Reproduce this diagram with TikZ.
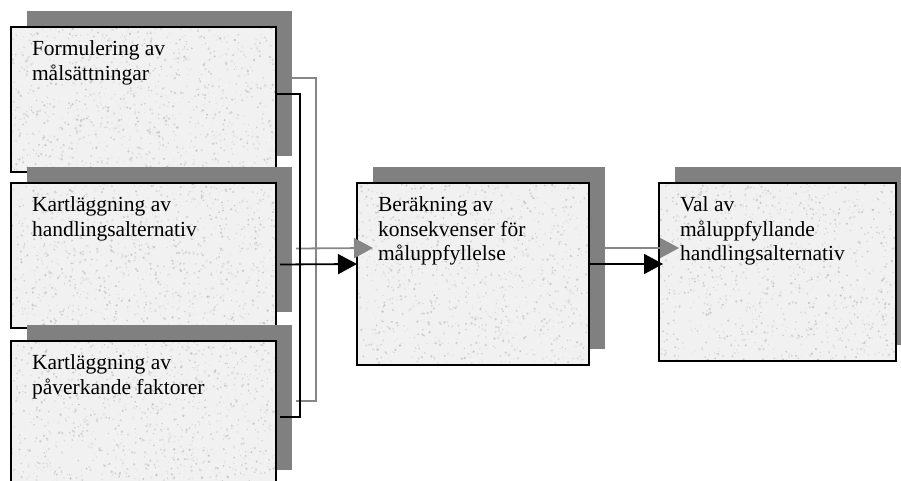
\documentclass[tikz,border=0pt]{standalone}
\usepackage{fontspec}
\setmainfont{Liberation Serif}
\usetikzlibrary{arrows.meta}
\definecolor{shade}{HTML}{808080}
\definecolor{glinecol}{HTML}{868686}
\definecolor{boxfill}{HTML}{F1F1F1}
\tikzset{
  shadowbox/.style={rectangle, fill=shade, draw=none, inner sep=0pt, outer sep=0pt, anchor=north west},
  frontbox/.style={rectangle, fill=boxfill, draw=none, inner sep=0pt, outer sep=0pt, anchor=north west},
  boxborder/.style={rectangle, draw=black, line width=1.8pt, inner sep=0pt, outer sep=0pt},
  smallbox/.style={minimum width=265pt, minimum height=145pt},
  boxtext/.style={anchor=north west, inner sep=0pt, outer sep=0pt, align=left, font=\fontsize{21.5}{24.5}\selectfont},
  blkline/.style={draw=black, line width=1.8pt},
  grayline/.style={draw=glinecol, line width=1.8pt},
  blkarrow/.style={blkline, -{Triangle[length=19pt,width=20pt]}},
  grayarrow/.style={grayline, -{Triangle[length=19pt,width=20pt]}}
}
% speckled texture inside a box given by x0,y0,w,h (picture units)
\newcommand\boxspeckle[4]{%
  \begin{scope}
    \clip (#1,#2) rectangle ({#1+#3},{#2+#4});
    \foreach \k in {1,...,1100}{%
      \pgfmathsetmacro\px{#1+#3*rnd}%
      \pgfmathsetmacro\py{#2+#4*rnd}%
      \pgfmathsetmacro\gv{8+14*rnd}%
      \pgfmathsetmacro\rr{0.5+0.9*rnd}%
      \fill[black!\gv] (\px,\py) circle[radius=\rr pt];
    }
  \end{scope}%
}
\begin{document}
\begin{tikzpicture}[x=1pt,y=-1pt]
\pgfmathsetseed{7}
\useasboundingbox (0,0) rectangle (901,481);
\clip (0,0) rectangle (901,481);
% box 1
\node[shadowbox, smallbox] (s1) at (27,11) {};
\node[frontbox, smallbox] (f1) at (11,27) {};
\boxspeckle{11}{27}{265}{145}
\node[boxborder, smallbox] (b1) at (f1.center) {};
% box 2
\node[shadowbox, smallbox] (s2) at (27,167) {};
\node[frontbox, smallbox] (f2) at (11,183) {};
\boxspeckle{11}{183}{265}{145}
\node[boxborder, smallbox] (b2) at (f2.center) {};
% box 3
\node[shadowbox, smallbox] (s3) at (27,325) {};
\node[frontbox, smallbox] (f3) at (11,341) {};
\boxspeckle{11}{341}{265}{145}
\node[boxborder, smallbox] (b3) at (f3.center) {};
% box 4
\node[shadowbox, minimum width=232pt, minimum height=182pt] (s4) at (373,167) {};
\node[frontbox, minimum width=232pt, minimum height=182pt] (f4) at (357,183) {};
\boxspeckle{357}{183}{232}{182}
\node[boxborder, minimum width=232pt, minimum height=182pt] (b4) at (f4.center) {};
% box 5
\node[shadowbox, minimum width=237pt, minimum height=178pt] (s5) at (675,167) {};
\node[frontbox, minimum width=237pt, minimum height=178pt] (f5) at (659,183) {};
\boxspeckle{659}{183}{237}{178}
\node[boxborder, minimum width=237pt, minimum height=178pt] (b5) at (f5.center) {};
% texts
\node[boxtext] (t1) at ([xshift=21pt,yshift=-14pt]b1.north west) {Formulering av\\målsättningar};
\node[boxtext] (t2) at ([xshift=21pt,yshift=-14pt]b2.north west) {Kartläggning av\\handlingsalternativ};
\node[boxtext] (t3) at ([xshift=21pt,yshift=-14pt]b3.north west) {Kartläggning av\\påverkande faktorer};
\node[boxtext] (t4) at ([xshift=21pt,yshift=-14pt]b4.north west) {Beräkning av\\konsekvenser för\\måluppfyllelse};
\node[boxtext] (t5) at ([xshift=21pt,yshift=-14pt]b5.north west) {Val av\\måluppfyllande\\handlingsalternativ};
% junction coordinates
\coordinate (gx) at (316,240);
\coordinate (bx) at (300,256);
% gray (shadow) connectors
\draw[grayline] ([yshift=5.5pt]s1.east) -| (gx) |- ([xshift=4pt,yshift=-3.5pt]s3.east);
\draw[grayarrow] ([xshift=4pt,yshift=-9pt]s2.east) -- ([yshift=10pt]s4.west);
\draw[grayarrow] ([yshift=10pt]s4.east) -- ([xshift=4pt,yshift=8pt]s5.west);
% black connectors
\draw[blkline] ([yshift=5.5pt]b1.east) -| (bx) |- ([xshift=4pt,yshift=-3.5pt]b3.east);
\draw[blkarrow] ([xshift=4pt,yshift=-9pt]b2.east) -- ([yshift=10pt]b4.west);
\draw[blkarrow] ([yshift=10pt]b4.east) -- ([xshift=4pt,yshift=8pt]b5.west);
\end{tikzpicture}
\end{document}
